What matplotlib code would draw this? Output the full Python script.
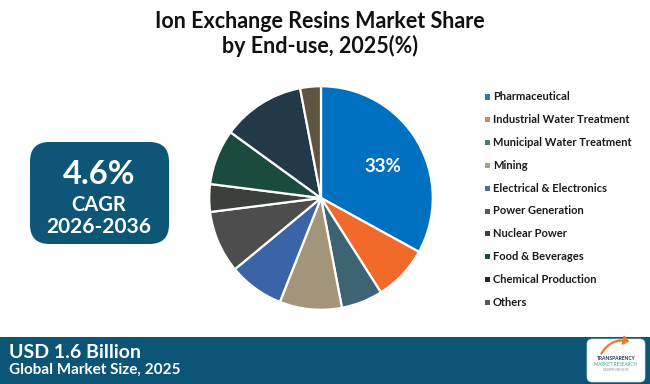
import matplotlib
matplotlib.use("Agg")
import matplotlib.pyplot as plt
from matplotlib.patches import FancyBboxPatch, Rectangle, FancyArrowPatch

# ---- data ----
categories = ["Pharmaceutical", "Industrial Water Treatment", "Municipal Water Treatment",
              "Mining", "Electrical & Electronics", "Power Generation", "Nuclear Power",
              "Food & Beverages", "Chemical Production", "Others"]
shares = [33, 8, 6, 9, 8, 9, 4, 8, 12, 3]
colors = ["#0070C0", "#F26A2A", "#3E6373", "#A3957A", "#3B63A8", "#4D4D4D",
          "#3C3F3A", "#1B4A3E", "#223A47", "#5E5440"]
legend_colors = ["#2E75B6", "#C98A5E", "#4F7A6E", "#A5A58A", "#4A6FA0", "#595959",
                 "#404040", "#1F4E3D", "#222A35", "#595959"]
title_lines = ["Ion Exchange Resins Market Share", "by End-use, 2025(%)"]
cagr_value = "4.6%"
cagr_label = "CAGR"
cagr_period = "2026-2036"
market_value = "USD 1.6 Billion"
market_label = "Global Market Size, 2025"

W, H = 650, 384
FONT = "Lato"
fig = plt.figure(figsize=(W / 100, H / 100), dpi=100)
fig.patch.set_facecolor("white")

def fx(x):
    return x / W

def fy(y):
    return 1 - y / H

# ---- title ----
fig.text(fx(320), fy(22), title_lines[0], ha="center", va="center",
         fontsize=15.5, fontweight="bold", family=FONT, color="#111111")
fig.text(fx(320), fy(46), title_lines[1], ha="center", va="center",
         fontsize=15.5, fontweight="bold", family=FONT, color="#111111")

# ---- pie ----
cx, cy, r = 321, 198, 114
ax = fig.add_axes([fx(cx - r), fy(cy + r), 2 * r / W, 2 * r / H])
wedges, _ = ax.pie(shares, colors=colors, startangle=90, counterclock=False,
                   radius=1.0,
                   wedgeprops=dict(edgecolor="white", linewidth=1.6))
ax.set_xlim(-1.02, 1.02)
ax.set_ylim(-1.02, 1.02)
ax.set_aspect("equal")
ax.axis("off")
fig.text(fx(383), fy(167), f"{shares[0]}%", ha="center", va="center",
         fontsize=13.5, fontweight="bold", family=FONT, color="white")

# ---- legend ----
y0, dy = 97, 22.8
for i, (cat, col) in enumerate(zip(categories, legend_colors)):
    y = y0 + i * dy
    fig.patches.append(Rectangle((fx(485), fy(y + 2.5)), 5 / W, 5 / H,
                                 transform=fig.transFigure, facecolor=col,
                                 edgecolor="none"))
    fig.text(fx(493), fy(y), cat, ha="left", va="center", fontsize=8,
             fontweight="bold", family=FONT, color="#1a1a1a")

# ---- CAGR box ----
box = FancyBboxPatch((fx(30), fy(244)), fx(139), 102 / H,
                     boxstyle="round,pad=0,rounding_size=0.03",
                     transform=fig.transFigure, facecolor="#0D5677",
                     edgecolor="none", mutation_aspect=W / H)
fig.patches.append(box)
fig.text(fx(99), fy(174), cagr_value, ha="center", va="center", fontsize=23.5,
         fontweight="bold", family=FONT, color="white")
fig.text(fx(99), fy(205), cagr_label, ha="center", va="center", fontsize=14.5,
         fontweight="bold", family=FONT, color="white")
fig.text(fx(99), fy(227), cagr_period, ha="center", va="center", fontsize=15,
         fontweight="bold", family=FONT, color="white")

# ---- bottom band ----
fig.patches.append(Rectangle((0, 0), 1, (H - 337) / H, transform=fig.transFigure,
                             facecolor="#0D5577", edgecolor="none"))
fig.text(fx(9), fy(352), market_value, ha="left", va="center", fontsize=14,
         fontweight="bold", family=FONT, color="white")
fig.text(fx(9), fy(370), market_label, ha="left", va="center", fontsize=11,
         fontweight="bold", family=FONT, color="white")

# ---- logo ----
logo = FancyBboxPatch((fx(587), fy(382)), fx(58), 43 / H,
                      boxstyle="round,pad=0,rounding_size=0.008",
                      transform=fig.transFigure, facecolor="white",
                      edgecolor="#dddddd", linewidth=0.5, mutation_aspect=W / H)
fig.patches.append(logo)
arr = FancyArrowPatch((fx(600), fy(356)), (fx(632), fy(342)),
                      transform=fig.transFigure, connectionstyle="arc3,rad=-0.4",
                      arrowstyle="-|>,head_length=3,head_width=2.5", color="#F07A2A",
                      linewidth=1.6)
fig.patches.append(arr)
fig.text(fx(616), fy(359), "TRANSPARENCY", ha="center", va="center", fontsize=3.6,
         fontweight="bold", family=FONT, color="#1F3A5A")
fig.text(fx(616), fy(365), "MARKET RESEARCH", ha="center", va="center", fontsize=3.3,
         family=FONT, color="#3AA39A")
fig.text(fx(616), fy(370), "GROWTH INSIGHTS", ha="center", va="center", fontsize=2,
         family=FONT, color="#888888")

fig.savefig("out.png", dpi=100, facecolor="white")
